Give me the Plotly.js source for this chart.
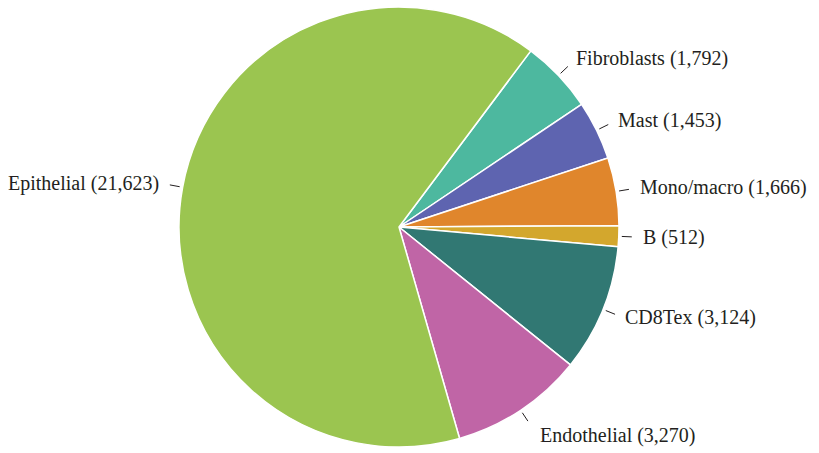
<!DOCTYPE html>
<html>
<head>
<meta charset="utf-8">
<script src="https://cdn.plot.ly/plotly-3.0.1.min.js"></script>
<style>html,body{margin:0;padding:0;background:#fff;}#chart{width:819px;height:453px;}</style>
</head>
<body>
<div id="chart"></div>
<script>
const categories = ["Fibroblasts", "Mast", "Mono/macro", "B", "CD8Tex", "Endothelial", "Epithelial"];
const counts = [1792, 1453, 1666, 512, 3124, 3270, 21623];
const colors = ["#4db89f", "#5e64b0", "#e0862c", "#d3a72d", "#317873", "#c065a6", "#9bc550"];

const W = 819, H = 453;
const cx = 399, cy = 227, R = 220;
const startAngle = 36.8; // degrees clockwise from 12 o'clock

const total = counts.reduce((a, b) => a + b, 0);
const fmt = n => n.toLocaleString("en-US");

const shapes = [];
const annotations = [];
let acc = startAngle;
counts.forEach((v, i) => {
  const span = v / total * 360;
  const mid = (acc + span / 2) * Math.PI / 180;
  acc += span;
  const s = Math.sin(mid), c = Math.cos(mid);
  const px = r => (cx + r * s) / W;
  const py = r => 1 - (cy - r * c) / H;
  shapes.push({type: "line", xref: "paper", yref: "paper",
    x0: px(R + 3), y0: py(R + 3), x1: px(R + 13), y1: py(R + 13),
    line: {color: "#231f20", width: 1}});
  const rl = R + 22;
  annotations.push({xref: "paper", yref: "paper", x: px(rl), y: py(rl),
    text: categories[i] + " (" + fmt(v) + ")", showarrow: false,
    xanchor: s >= 0 ? "left" : "right", yanchor: "middle",
    xshift: c < -0.5 ? 5 : 0,
    yshift: c < -0.5 ? c * 8 : (c > 0.5 ? 2 : 0),
    font: {family: "Liberation Serif, serif", size: 20, color: "#231f20"}});
});

const data = [{
  type: "pie",
  labels: categories,
  values: counts,
  sort: false,
  direction: "clockwise",
  rotation: startAngle,
  textinfo: "none",
  hoverinfo: "label+value",
  marker: {colors: colors, line: {color: "#ffffff", width: 1.5}},
  domain: {x: [(cx - R) / W, (cx + R) / W], y: [1 - (cy + R) / H, 1 - (cy - R) / H]},
  showlegend: false
}];

const layout = {
  width: W, height: H,
  margin: {l: 0, r: 0, t: 0, b: 0},
  paper_bgcolor: "#ffffff",
  showlegend: false,
  shapes: shapes,
  annotations: annotations
};

Plotly.newPlot("chart", data, layout, {displayModeBar: false, staticPlot: true});
</script>
</body>
</html>
